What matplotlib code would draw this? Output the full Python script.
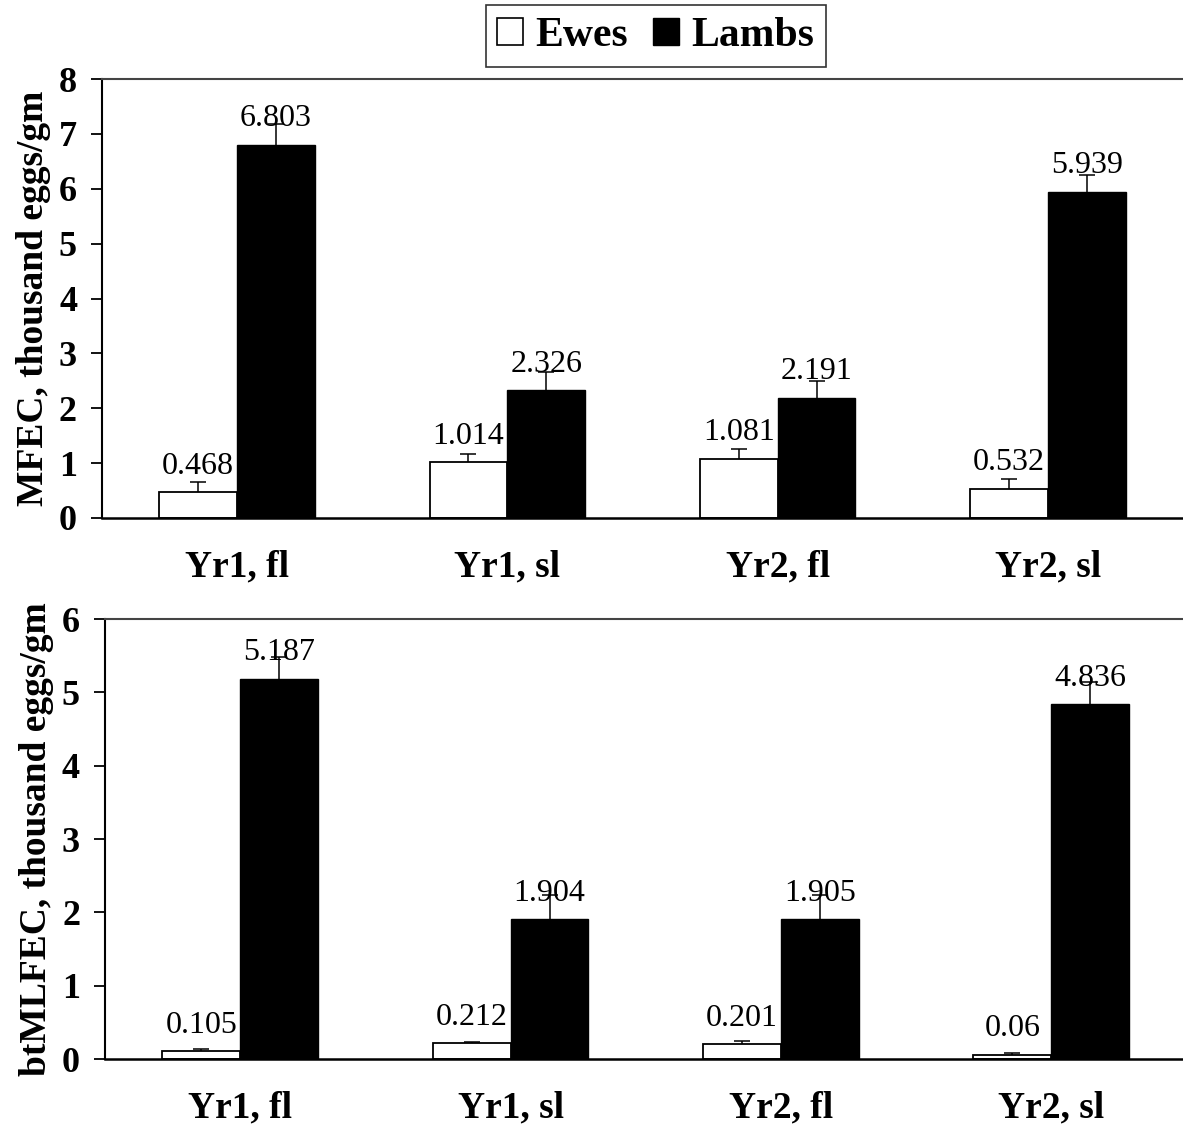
import matplotlib
matplotlib.use("Agg")
import matplotlib.pyplot as plt
import numpy as np
from matplotlib.patches import Patch

plt.rcParams['font.family'] = ['Liberation Serif', 'DejaVu Serif']

categories = ["Yr1, fl", "Yr1, sl", "Yr2, fl", "Yr2, sl"]
series_names = ["Ewes", "Lambs"]

mfec_ewes = [0.468, 1.014, 1.081, 0.532]
mfec_lambs = [6.803, 2.326, 2.191, 5.939]
mfec_ewes_err = [0.18, 0.15, 0.17, 0.18]
mfec_lambs_err = [0.38, 0.33, 0.31, 0.31]

bt_ewes = [0.105, 0.212, 0.201, 0.06]
bt_lambs = [5.187, 1.904, 1.905, 4.836]
bt_ewes_err = [0.025, 0.025, 0.04, 0.025]
bt_lambs_err = [0.30, 0.33, 0.33, 0.30]

fig = plt.figure(figsize=(11.83, 11.34), dpi=100)
ax1 = fig.add_axes([102/1183, 1-518/1134, 1.0-102/1183, (518-79)/1134])
ax2 = fig.add_axes([105/1183, 1-1059/1134, 1.0-105/1183+0.003, (1059-619)/1134])

x = np.arange(len(categories))
w = 0.288


def draw(ax, ewes, lambs, ee, le, ymax, ylabel):
    ax.bar(x - w/2, ewes, w, color='white', edgecolor='black', linewidth=1.3, zorder=2)
    ax.bar(x + w/2, lambs, w, color='black', edgecolor='black', linewidth=1.0, zorder=2)
    for xs, vals, errs in ((x - w/2, ewes, ee), (x + w/2, lambs, le)):
        cont = ax.errorbar(xs, vals, yerr=[np.zeros(len(errs)), errs], fmt='none', ecolor='black',
                           elinewidth=1.1, capsize=5.8, capthick=1.1, zorder=3)
        caps = cont.lines[1]
        if len(caps) == 2:
            caps[0].set_visible(False)
        for xi, v in zip(xs, vals):
            ax.annotate(f"{v:g}", (xi, v), xytext=(0, 13.5), textcoords='offset points',
                        ha='center', va='baseline', fontsize=23, zorder=4)
    ax.set_xlim(-0.5, 3.5)
    ax.set_ylim(0, ymax)
    ax.set_yticks(range(0, ymax + 1))
    ax.set_yticklabels([str(i) for i in range(0, ymax + 1)], fontsize=26, fontweight='bold')
    ax.set_xticks(x)
    ax.set_xticklabels(categories, fontsize=27, fontweight='bold')
    ax.tick_params(axis='x', length=0, pad=23)
    ax.tick_params(axis='y', length=8, width=1.3, direction='out', pad=10)
    ax.spines['right'].set_visible(False)
    ax.spines['top'].set_color('#444444')
    ax.spines['top'].set_linewidth(1.5)
    ax.spines['left'].set_linewidth(1.5)
    ax.spines['bottom'].set_linewidth(1.8)
    ax.set_ylabel(ylabel, fontsize=27, fontweight='bold', labelpad=6)


draw(ax1, mfec_ewes, mfec_lambs, mfec_ewes_err, mfec_lambs_err, 8, "MFEC, thousand eggs/gm")
draw(ax2, bt_ewes, bt_lambs, bt_ewes_err, bt_lambs_err, 6, "btMLFEC, thousand eggs/gm")

handles = [Patch(facecolor='white', edgecolor='black', linewidth=1.2),
           Patch(facecolor='black', edgecolor='black')]
leg = fig.legend(handles, series_names, loc='center', bbox_to_anchor=(656/1183, 1-36/1134),
                 ncol=2, frameon=True, fancybox=False, prop={'weight': 'bold', 'size': 30},
                 handlelength=0.62, handleheight=0.62, handletextpad=0.3, columnspacing=0.6,
                 borderpad=0.28, borderaxespad=0)
leg.get_frame().set_edgecolor('black')
leg.get_frame().set_linewidth(1.2)

fig.savefig("out.png", dpi=100)
